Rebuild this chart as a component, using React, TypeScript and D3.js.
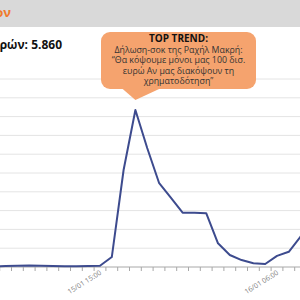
import * as d3 from "d3";

// hourly categories, 15/01 05:00 .. 16/01 09:00
const hours15 = ["05:00", "06:00", "07:00", "08:00", "09:00", "10:00", "11:00", "12:00", "13:00", "14:00", "15:00", "16:00", "17:00", "18:00", "19:00", "20:00", "21:00", "22:00", "23:00"];
const hours16 = ["00:00", "01:00", "02:00", "03:00", "04:00", "05:00", "06:00", "07:00", "08:00", "09:00"];
const categories = [...hours15.map(h => "15/01 " + h), ...hours16.map(h => "16/01 " + h)];

const mentions = [4, 4, 5, 7, 8, 6, 5, 4, 4, 5, 7, 53, 516, 835, 633, 448, 369, 289, 289, 286, 126, 64, 37, 20, 16, 59, 81, 161, 330];

const gridValues = [100, 200, 300, 400, 500, 600, 700, 800, 900, 1000];

const labelEvery = 15;
const firstLabel = "15/01 15:00";

const calloutTitle = "TOP TREND:";
const calloutLines = [
    "Δήλωση-σοκ της Ραχήλ Μακρή:",
    "“Θα κόψουμε μόνοι μας 100 δισ.",
    "ευρώ Αν μας διακόψουν τη",
    "χρηματοδότηση”"
];

const headerText = "Μηνύματα ανά ώρα της Ραχήλ Μακρήον";
const totalText = "Σύνολο αναφορών: 5.860";

const App = () => {
    const width = 300;
    const height = 300;
    const step = 11.8;
    const firstIdx = categories.indexOf(firstLabel);
    const start = 100 - firstIdx * step - step / 2;

    const x = d3.scaleBand()
        .domain(categories)
        .range([start, start + categories.length * step])
        .padding(0);

    const y = d3.scaleLinear().domain([0, 1000]).range([267, 79]);

    const cx = (c: string) => (x(c) as number) + x.bandwidth() / 2;

    const line = d3.line<number>()
        .x((_, i) => cx(categories[i]))
        .y(d => y(d));

    const tickXs = [...categories.map(c => x(c) as number), start + categories.length * step];

    const peak = categories[mentions.indexOf(d3.max(mentions) as number)];
    const tipX = cx(peak);
    const tipY = y(d3.max(mentions) as number) - 10;

    const box = { x: 101, y: 32, w: 155, h: 57, r: 9 };
    const boxCx = box.x + box.w / 2;

    return (
        <svg width={width} height={height} style={{ position: "absolute", left: 0, top: 0, background: "#fff" }}
            fontFamily="'Open Sans', sans-serif">
            <rect x={0} y={0} width={width} height={27} fill="#d9d9d9" />
            <text x={11} y={17} textAnchor="end" fontSize={13} fontWeight="bold" fill="#f07a2c">{headerText}</text>
            <text x={62} y={49} textAnchor="end" fontSize={12} fontWeight="bold" fill="#111">{totalText}</text>

            {gridValues.map(v => (
                <line key={v} x1={0} x2={width} y1={y(v)} y2={y(v)} stroke="#e4e4e4" strokeWidth={1} />
            ))}

            <line x1={0} x2={width} y1={y(0)} y2={y(0)} stroke="#a8a8a8" strokeWidth={1} />
            {tickXs.map((t, i) => (
                <line key={i} x1={t} x2={t} y1={y(0)} y2={y(0) + 4} stroke="#a8a8a8" strokeWidth={1} />
            ))}

            {categories.map((c, i) => ((i - firstIdx) % labelEvery === 0 ? (
                <text key={c} transform={`translate(${cx(c) + 2},${y(0) + 7}) rotate(-32)`}
                    textAnchor="end" fontSize={7} fill="#7a7a7a">{c}</text>
            ) : null))}

            <path d={line(mentions) ?? ""} fill="none" stroke="#3d4b8e" strokeWidth={2} strokeLinejoin="round" />

            <path d={`M ${tipX - 15} ${box.y + box.h - 2} L ${tipX} ${tipY} L ${tipX + 28} ${box.y + box.h - 2} Z`} fill="#f5a36e" />
            <rect x={box.x} y={box.y} width={box.w} height={box.h} rx={box.r} fill="#f5a36e" />
            <text x={boxCx} y={42} textAnchor="middle" fontSize={10} fontWeight="bold" fill="#111">{calloutTitle}</text>
            {calloutLines.map((l, i) => (
                <text key={i} x={boxCx} y={53 + i * 10.3} textAnchor="middle" fontSize={8.8} fill="#333">{l}</text>
            ))}
        </svg>
    );
};

export default App;
